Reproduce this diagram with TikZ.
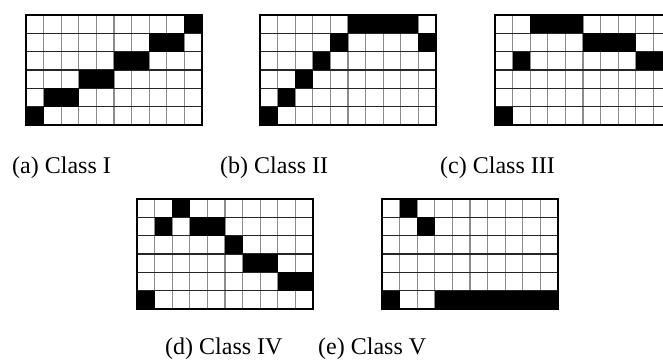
\documentclass[tikz,border=0pt]{standalone}
\usepackage{fontspec}
\setmainfont{Liberation Serif}
\usetikzlibrary{positioning}
\tikzset{
    hline/.style={draw=black!85, line width=1.3pt},
    vline/.style={draw=black!45, line width=1.3pt},
    gridframe/.style={draw=black, line width=2.8pt},
    caption/.style={font=\fontsize{24}{28}\selectfont, anchor=base west, inner sep=0pt}
}
% grid of 10 x 6 cells: origin x, origin y, filled cells as col/row
\newcommand{\classgrid}[3]{%
    \begin{scope}[shift={(#1,#2)}]
        \foreach \i in {1,...,9} \draw[vline] (\i*17.6,0) -- (\i*17.6,110);
        \foreach \j in {1,...,5} \draw[hline] (0,\j*18.33) -- (176,\j*18.33);
        \foreach \c/\r in {#3} \fill (\c*17.6,\r*18.33) rectangle ++(17.6,18.33);
        \draw[gridframe] (0,0) rectangle (176,110);
    \end{scope}
}
\begin{document}
\begin{tikzpicture}[x=1pt, y=-1pt]
    \useasboundingbox (0,0) rectangle (663,361);
    \clip (0,0) rectangle (663,361);
    \fill[white] (0,0) rectangle (663,361);

    % top row
    \classgrid{26}{15}{9/0, 7/1, 8/1, 5/2, 6/2, 3/3, 4/3, 1/4, 2/4, 0/5}
    \classgrid{260}{15}{5/0, 6/0, 7/0, 8/0, 4/1, 9/1, 3/2, 2/3, 1/4, 0/5}
    \classgrid{495}{15}{2/0, 3/0, 4/0, 5/1, 6/1, 7/1, 1/2, 8/2, 9/2, 0/5}

    % bottom row
    \classgrid{137}{199}{2/0, 1/1, 3/1, 4/1, 5/2, 6/3, 7/3, 8/4, 9/4, 0/5}
    \classgrid{382}{199}{1/0, 2/1, 0/5, 3/5, 4/5, 5/5, 6/5, 7/5, 8/5, 9/5}

    \node[caption] (capA) at (12,173) {(a) Class I};
    \node[caption] (capB) at (220,173) {(b) Class II};
    \node[caption] (capC) at (440,173) {(c) Class III};
    \node[caption] (capD) at (165,354) {(d) Class IV};
    \node[caption] (capE) at (318,354) {(e) Class V};
\end{tikzpicture}
\end{document}
